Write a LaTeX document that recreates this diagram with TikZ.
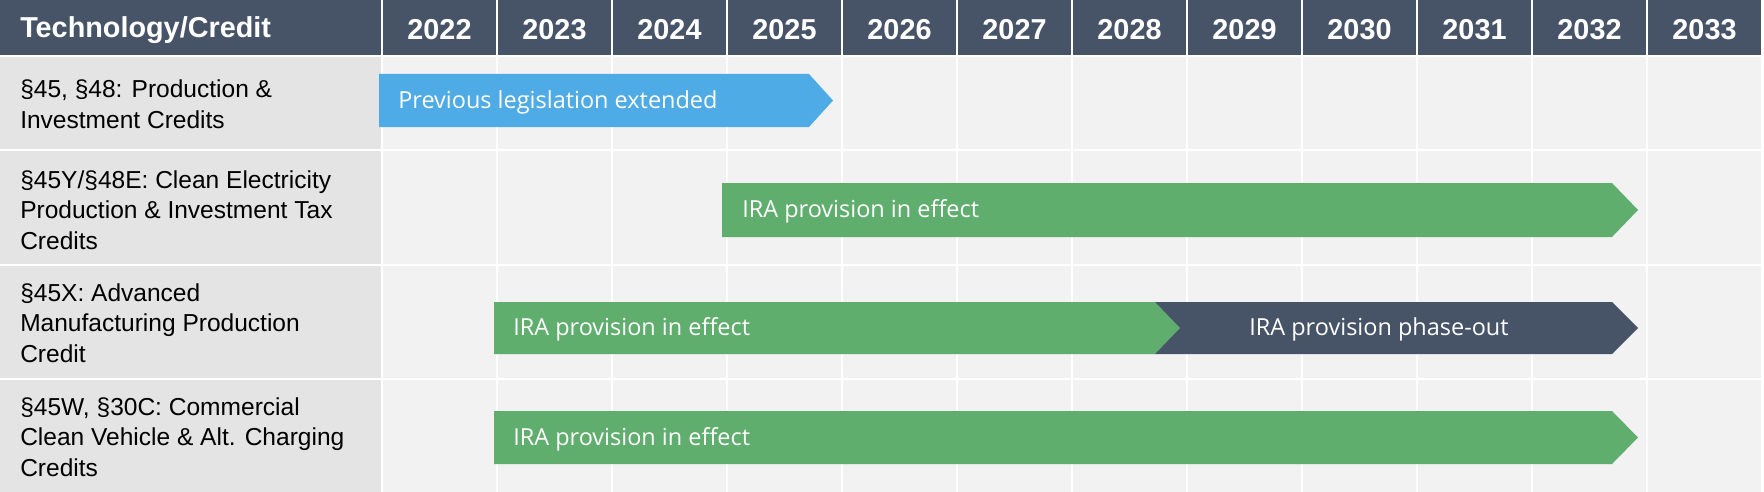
\documentclass[tikz,border=0pt]{standalone}
\usepackage{fontspec}
\setmainfont{Liberation Sans}
\newfontfamily\barfont{Open Sans}
\definecolor{hdrcol}{RGB}{71,84,104}
\definecolor{labcol}{RGB}{228,228,228}
\definecolor{cellcol}{RGB}{242,242,242}
\definecolor{bluecol}{RGB}{79,171,230}
\definecolor{greencol}{RGB}{96,174,110}
\begin{document}
\begin{tikzpicture}[x=0.75pt,y=-0.75pt,
  hdrtext/.style={text=white,font=\fontsize{21.6}{26}\selectfont\bfseries,inner sep=0pt},
  labtext/.style={text=black,font=\fontsize{18.4}{22.9}\selectfont,align=left,anchor=west,inner sep=0pt},
  bartext/.style={text=white,font=\barfont\fontsize{17.6}{21}\selectfont,inner sep=0pt}]
\useasboundingbox (0,0) rectangle (1764,492);
\fill[white] (0,0) rectangle (1764,492);
% header
\fill[hdrcol] (0,0) rectangle (381,55);
\node[hdrtext,anchor=west] (hT) at (20,30) {Technology/Credit};
\foreach \i in {0,...,11}{
  \pgfmathsetmacro{\xa}{383+115*\i}
  \pgfmathtruncatemacro{\yr}{2022+\i}
  \fill[hdrcol] (\xa,0) rectangle ({\xa+113},55);
  \node[hdrtext] (y\yr) at ({\xa+56.5},30) {\yr};
}
% rows
\foreach \t/\b in {57/149, 151/264, 266/378, 380/492}{
  \fill[labcol] (0,\t) rectangle (381,\b);
  \foreach \i in {0,...,11}{
    \pgfmathsetmacro{\xa}{383+115*\i}
    \fill[cellcol] (\xa,\t) rectangle ({\xa+113},\b);
  }
}
% labels
\node[labtext] (l1) at (20,104) {§45, §48: Production \&\\Investment Credits};
\node[labtext] (l2) at (20,210) {§45Y/§48E: Clean Electricity\\Production \& Investment Tax\\Credits};
\node[labtext] (l3) at (20,323) {§45X: Advanced\\Manufacturing Production\\Credit};
\node[labtext] (l4) at (20,437) {§45W, §30C: Commercial\\Clean Vehicle \& Alt. Charging\\Credits};
% bars
\fill[bluecol] (379,74) -- (809,74) -- (833,100.5) -- (809,127) -- (379,127) -- cycle;
\node[bartext,anchor=west] (b1) at (398,102) {Previous legislation extended};
\fill[greencol] (722,183) -- (1612,183) -- (1638,210) -- (1612,237) -- (722,237) -- cycle;
\node[bartext,anchor=west] (b2) at (742,211.5) {IRA provision in effect};
\fill[greencol] (494,302) -- (1155,302) -- (1180,328) -- (1155,354) -- (494,354) -- cycle;
\fill[hdrcol] (1155,302) -- (1612,302) -- (1638,328) -- (1612,354) -- (1155,354) -- (1180,328) -- cycle;
\node[bartext,anchor=west] (b3) at (513,329.5) {IRA provision in effect};
\node[bartext] (b3b) at (1379,329.5) {IRA provision phase-out};
\fill[greencol] (494,411) -- (1612,411) -- (1638,437.5) -- (1612,464) -- (494,464) -- cycle;
\node[bartext,anchor=west] (b4) at (513,439) {IRA provision in effect};
\end{tikzpicture}
\end{document}
